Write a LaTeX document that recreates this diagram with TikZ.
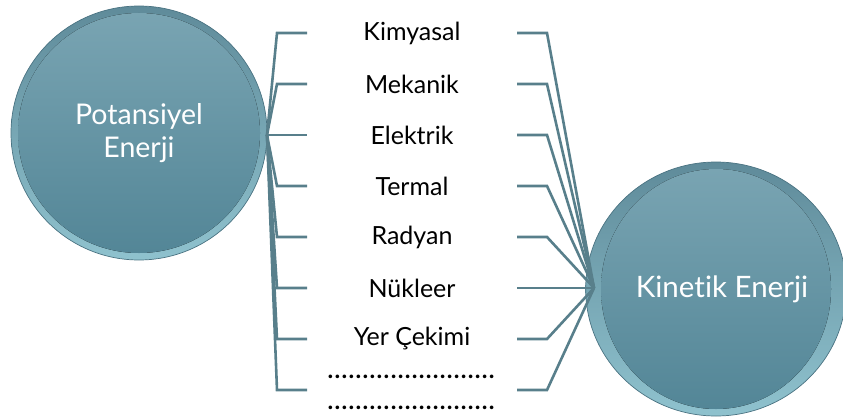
\documentclass[tikz,border=0pt]{standalone}
\usepackage{fontspec}
\setmainfont{Lato}[Ligatures=NoCommon]
\usetikzlibrary{shapes.geometric}
\definecolor{linkc}{HTML}{587F8B}
\definecolor{orbtop}{HTML}{7AA5B3}
\definecolor{orbbot}{HTML}{528596}
\definecolor{rimtop}{HTML}{5F8B9A}
\definecolor{rimbot}{HTML}{8FC2CE}
\definecolor{orbedge}{HTML}{4A7382}
\newcommand{\dotrow}{\hbox to 170pt{\leaders\hbox to 7pt{\hss\textbf{.}\hss}\hfill}}
\tikzset{
  orb/.style 2 args={ellipse, inner sep=0pt, draw=orbedge, line width=0.7pt,
    top color=rimtop, bottom color=rimbot, text=white, align=center,
    path picture={
      \fill[top color=orbtop, bottom color=orbbot]
        (path picture bounding box.center) ellipse [x radius=#1, y radius=#2];
    }},
  lbl/.style={text=black, font=\fontsize{25}{30}\selectfont, align=center},
  conn/.style={draw=linkc, line width=2.6pt, line join=miter}
}
\begin{document}
\begin{tikzpicture}[x=1pt,y=-1pt]
\useasboundingbox (0,0) rectangle (843,420);

% the two energy forms
\node[orb={121pt}{120pt}, minimum width=256pt, minimum height=254pt,
      font=\fontsize{28.5}{33}\selectfont] (pot) at (139,133) {Potansiyel\\Enerji};
\node[orb={115pt}{120pt}, minimum width=244pt, minimum height=254pt,
      font=\fontsize{29.5}{33}\selectfont] (kin) at (716,289)
      {\hspace*{12pt}Kinetik Enerji};

% hubs where the brackets meet the circles
\coordinate (lhub) at (267,135);
\coordinate (rhub) at (594,288);

% kinds of energy
\foreach \i/\y/\t in {1/33/Kimyasal, 2/84/Mekanik, 3/135/Elektrik,
    4/186/Termal, 5/237/Radyan, 6/288/N\"ukleer, 7/339/Yer \c{C}ekimi} {
  \node[lbl] (k\i) at (412,\y) {\t};
}
\node[lbl, font=\fontsize{24}{31}\selectfont] (k8) at (412,392)
  {\dotrow\\\dotrow};

% bracket end points
\foreach \i/\y in {1/33, 2/84, 3/135, 4/186, 5/237, 6/288, 7/339, 8/390} {
  \coordinate (pl\i) at (277,\y);
  \coordinate (ql\i) at (307,\y);
  \coordinate (pr\i) at (547,\y);
  \coordinate (qr\i) at (517,\y);
  \draw[conn] (lhub) -- (pl\i) -- (ql\i);
  \draw[conn] (rhub) -- (pr\i) -- (qr\i);
}
\end{tikzpicture}
\end{document}
